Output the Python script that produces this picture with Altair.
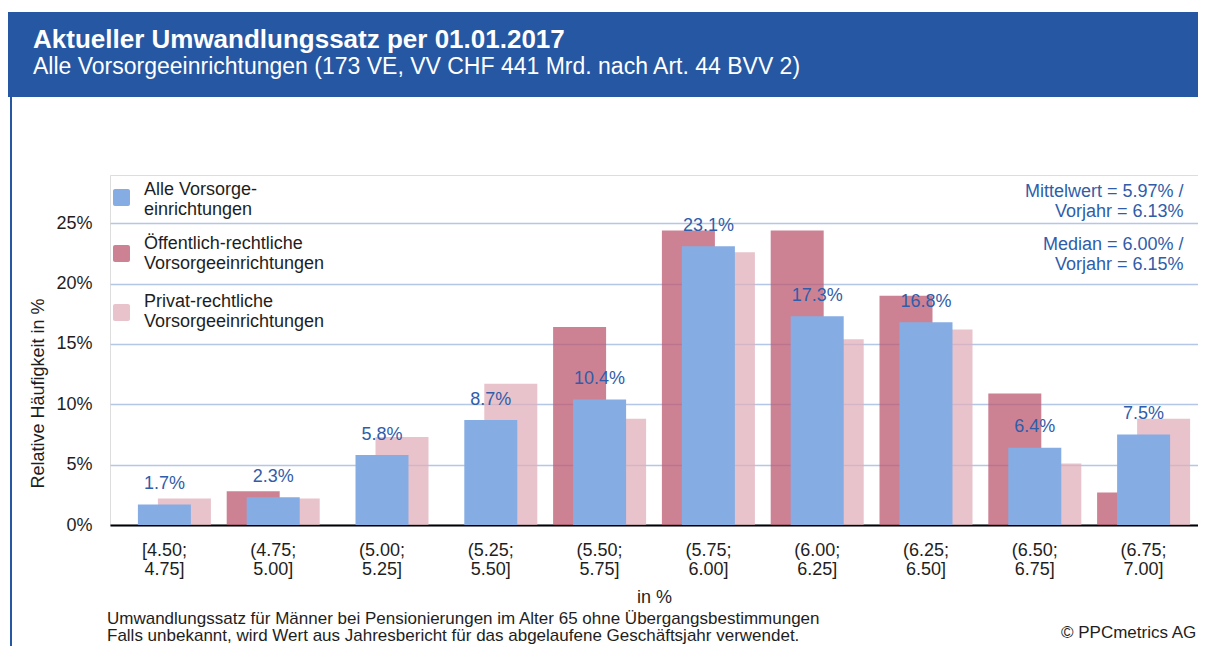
import altair as alt
import pandas as pd

# ---------------- data ----------------
categories = ["[4.50; 4.75]", "(4.75; 5.00]", "(5.00; 5.25]", "(5.25; 5.50]", "(5.50; 5.75]",
              "(5.75; 6.00]", "(6.00; 6.25]", "(6.25; 6.50]", "(6.50; 6.75]", "(6.75; 7.00]"]
alle = [1.7, 2.3, 5.8, 8.7, 10.4, 23.1, 17.3, 16.8, 6.4, 7.5]
oeffentlich = [0.0, 2.8, 0.0, 0.0, 16.4, 24.4, 24.4, 19.0, 10.9, 2.7]
privat = [2.2, 2.2, 7.3, 11.7, 8.8, 22.6, 15.4, 16.2, 5.1, 8.8]
y_ticks = [0, 5, 10, 15, 20, 25]

title_text = "Aktueller Umwandlungssatz per 01.01.2017"
subtitle_text = "Alle Vorsorgeeinrichtungen (173 VE, VV CHF 441 Mrd. nach Art. 44 BVV 2)"
legend_alle = ["Alle Vorsorge-", "einrichtungen"]
legend_oeff = ["Öffentlich-rechtliche", "Vorsorgeeinrichtungen"]
legend_priv = ["Privat-rechtliche", "Vorsorgeeinrichtungen"]
mittel_lines = ["Mittelwert = 5.97% /", "Vorjahr = 6.13%"]
median_lines = ["Median = 6.00% /", "Vorjahr = 6.15%"]
foot_lines = ["Umwandlungssatz für Männer bei Pensionierungen im Alter 65 ohne Übergangsbestimmungen",
              "Falls unbekannt, wird Wert aus Jahresbericht für das abgelaufene Geschäftsjahr verwendet."]
copyright_text = "© PPCmetrics AG"

# ---------------- styles ----------------
FONT = "Liberation Sans"
C_ALLE = "#85ADE3"
C_OEFF = "#BC5870"   # drawn with opacity 0.75 -> appears #CD8294
C_PRIV = "#E0AFBA"   # drawn with opacity 0.75 -> appears #E8C3CB
C_LABEL = "#2F5DA9"
C_HEAD = "#2557A3"
C_TEXT = "#1E1E1E"
W, H = 1088, 350

df_alle = pd.DataFrame({"Kategorie": categories, "Wert": alle})
df_oeff = pd.DataFrame({"Kategorie": categories, "Wert": oeffentlich})
df_priv = pd.DataFrame({"Kategorie": categories, "Wert": privat})
one = pd.DataFrame({"d": [0]})

x_enc = alt.X(
    "Kategorie:N", sort=categories,
    scale=alt.Scale(paddingInner=0, paddingOuter=0),
    axis=alt.Axis(
        title="in %", labelExpr="split(datum.label, ' ')", labelAngle=0,
        labelFont=FONT, labelFontSize=18, labelLineHeight=19, labelPadding=16,
        labelBaseline="top", labelColor=C_TEXT, ticks=False,
        domainColor="#000000", domainWidth=2, grid=False,
        titleFont=FONT, titleFontSize=18, titleFontWeight="normal", titleColor=C_TEXT,
        titleX=W / 2, titleY=77, titleBaseline="alphabetic", titleAlign="center",
    ),
)
y_enc = alt.Y(
    "Wert:Q",
    scale=alt.Scale(domain=[0, 29], nice=False),
    axis=alt.Axis(
        values=y_ticks, labelExpr="datum.value + '%'", ticks=False, domain=False,
        gridColor="#B4C7E7", gridWidth=1.3,
        labelFont=FONT, labelFontSize=18, labelPadding=18, labelColor=C_TEXT,
        title="Relative Häufigkeit in %", titleFont=FONT, titleFontSize=18,
        titleFontWeight="normal", titleColor=C_TEXT, titleAngle=-90,
        titleX=-67, titleY=218, titleBaseline="alphabetic", titleAlign="center",
    ),
)

bars_oeff = alt.Chart(df_oeff).mark_bar(size=53, xOffset=-20, color=C_OEFF, opacity=0.75).encode(x=x_enc, y=y_enc)
bars_priv = alt.Chart(df_priv).mark_bar(size=53, xOffset=20, color=C_PRIV, opacity=0.75).encode(x=x_enc, y=y_enc)
bars_alle = alt.Chart(df_alle).mark_bar(size=53, color=C_ALLE).encode(x=x_enc, y=y_enc)
labels_alle = alt.Chart(df_alle).transform_calculate(
    lab="format(datum.Wert, '.1f') + '%'"
).mark_text(font=FONT, fontSize=18, color=C_LABEL, dy=-15.5, baseline="alphabetic", align="center").encode(
    x=x_enc, y=y_enc, text="lab:N"
)

# ---------------- decorations ----------------
header = alt.Chart(one).mark_rect(color=C_HEAD).encode(
    x=alt.value(-102), x2=alt.value(W), y=alt.value(-163), y2=alt.value(-78))
border = alt.Chart(one).mark_rule(color=C_HEAD, strokeWidth=2).encode(
    x=alt.value(-99), y=alt.value(-78), y2=alt.value(480))
title = alt.Chart(one).mark_text(text=title_text, font=FONT, fontSize=26, fontWeight="bold",
                                 color="white", align="left", baseline="alphabetic").encode(
    x=alt.value(-77), y=alt.value(-127))
subtitle = alt.Chart(one).mark_text(text=subtitle_text, font=FONT, fontSize=23,
                                    color="white", align="left", baseline="alphabetic").encode(
    x=alt.value(-77), y=alt.value(-101))


def swatch(color, yc, op=1.0):
    return alt.Chart(one).mark_rect(color=color, opacity=op, cornerRadius=2).encode(
        x=alt.value(3), x2=alt.value(20), y=alt.value(yc - 8.5), y2=alt.value(yc + 8.5))


def legtext(lines, ybase):
    return alt.Chart(one).mark_text(text=lines, font=FONT, fontSize=18, color=C_TEXT, align="left",
                                    baseline="alphabetic", lineHeight=20).encode(
        x=alt.value(34), y=alt.value(ybase))


legend = [swatch(C_ALLE, 22.5), legtext(legend_alle, 20),
          swatch(C_OEFF, 78.5, 0.75), legtext(legend_oeff, 74),
          swatch(C_PRIV, 137.5, 0.75), legtext(legend_priv, 132)]

mittel = alt.Chart(one).mark_text(text=mittel_lines, font=FONT, fontSize=18, color=C_LABEL, align="right",
                                  baseline="alphabetic", lineHeight=20).encode(
    x=alt.value(1073.5), y=alt.value(21.7))
median = alt.Chart(one).mark_text(text=median_lines, font=FONT, fontSize=18, color=C_LABEL, align="right",
                                  baseline="alphabetic", lineHeight=20).encode(
    x=alt.value(1073.5), y=alt.value(75))
foot = alt.Chart(one).mark_text(text=foot_lines, font=FONT, fontSize=17, color=C_TEXT, align="left",
                                baseline="alphabetic", lineHeight=17).encode(
    x=alt.value(-3), y=alt.value(449))
copy = alt.Chart(one).mark_text(text=copyright_text, font=FONT, fontSize=17, color=C_TEXT, align="left",
                                baseline="alphabetic").encode(
    x=alt.value(951), y=alt.value(463))

chart = alt.layer(
    header, border, title, subtitle,
    bars_oeff, bars_priv, bars_alle, labels_alle,
    *legend, mittel, median, foot, copy,
).properties(
    width=W, height=H,
    autosize="none",
    padding={"left": 102, "top": 167, "right": 0, "bottom": 121},
).configure_view(stroke=None).configure(background="white")

chart.save("out.html", embed_options={"renderer": "svg", "actions": False})
